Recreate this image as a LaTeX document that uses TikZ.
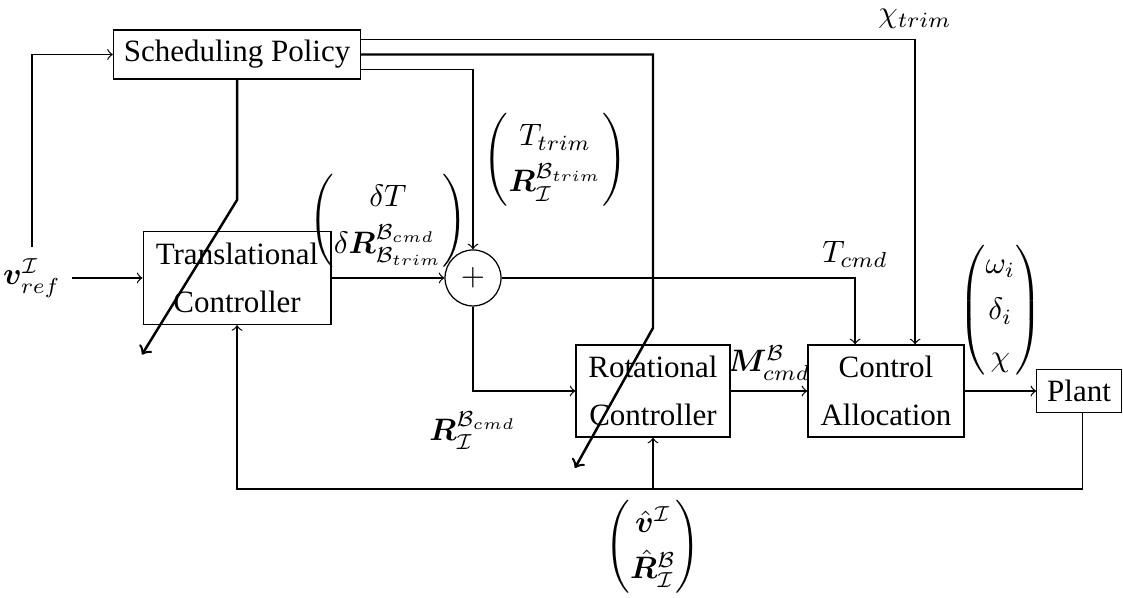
\documentclass[tikz,border=0pt]{standalone}
\usepackage{amsmath,amssymb}
\usepackage{bm}
\usepackage{fontspec}
\setmainfont{Liberation Serif}
\usetikzlibrary{positioning}

\renewcommand{\arraystretch}{1.25}
\tikzset{
  block/.style={draw, align=center},
  sumnode/.style={draw, circle, minimum size=0.635cm, inner sep=0pt},
  sched/.style={->, thick},
}

\begin{document}
\begin{tikzpicture}
\useasboundingbox (0,0) rectangle (12.735,6.781);
% blocks
\node[block] (sp) at (2.688,6.163) {Scheduling Policy};
\node[block, minimum width=2.13cm, minimum height=1.055cm] (tc) at (2.688,3.629) {Translational\\[3.5pt]Controller};
\node[sumnode] (sum) at (5.364,3.629) {$+$};
\node[block, minimum width=1.746cm, minimum height=1.043cm] (rc) at (7.405,2.347) {Rotational\\[3.5pt]Controller};
\node[block, minimum width=1.77cm, minimum height=1.043cm] (ca) at (10.047,2.347) {Control\\[3.5pt]Allocation};
\node[block] (pl) at (12.236,2.347) {Plant};
\node (vref) at (0.363,3.629) {$\bm{v}^{\mathcal{I}}_{ref}$};

% signals
\draw[->] (vref.north) |- (sp.west);
\draw[->] (vref) -- (tc);
\draw[->] (tc) -- (sum) node[midway, above] {$\begin{pmatrix} \delta T\\ \delta\bm{R}^{\mathcal{B}_{cmd}}_{\mathcal{B}_{trim}} \end{pmatrix}$};
\draw[->] ([yshift=-0.17cm]sp.east) -| (sum) node[pos=0.75, right] {$\begin{pmatrix} T_{trim}\\ \bm{R}^{\mathcal{B}_{trim}}_{\mathcal{I}} \end{pmatrix}$};
\draw[->] ([yshift=0.17cm]sp.east) -| ([xshift=0.33cm]ca.north) node[pos=0.5, above] {$\chi_{trim}$};
\draw[->] (sum) -| ([xshift=-0.35cm]ca.north) node[pos=0.5, above] {$T_{cmd}$};
\draw[->] (sum) |- (rc) node[pos=0.5, below, yshift=-3pt] {$\bm{R}^{\mathcal{B}_{cmd}}_{\mathcal{I}}$};
\draw[->] (rc) -- (ca) node[midway, above] {$\bm{M}^{\mathcal{B}}_{cmd}$};
\draw[->] (ca) -- (pl) node[midway, above] {$\begin{pmatrix} \omega_i\\ \delta_i\\ \chi \end{pmatrix}$};

% feedback
\coordinate (fbr) at ([xshift=0.04cm]pl.south |- 0,1.236);
\coordinate (fbm) at (rc.south |- fbr);
\draw[->] ([xshift=0.04cm]pl.south) -- (fbr) -| (tc.south);
\draw[->] (fbm) -- (rc.south);
\node[below] (fbl) at (fbm) {$\begin{pmatrix} \hat{\bm{v}}^{\mathcal{I}}\\ \hat{\bm{R}}^{\mathcal{B}}_{\mathcal{I}} \end{pmatrix}$};

% scheduling
\coordinate (k1) at (7.405,3.062);
\coordinate (k2) at (6.52,1.474);
\coordinate (j1) at (2.688,4.513);
\coordinate (j2) at (1.61,2.76);
\draw[sched] (sp.east) -| (k1) -- (k2);
\draw[sched] (sp.south) -- (j1) -- (j2);
\end{tikzpicture}
\end{document}
